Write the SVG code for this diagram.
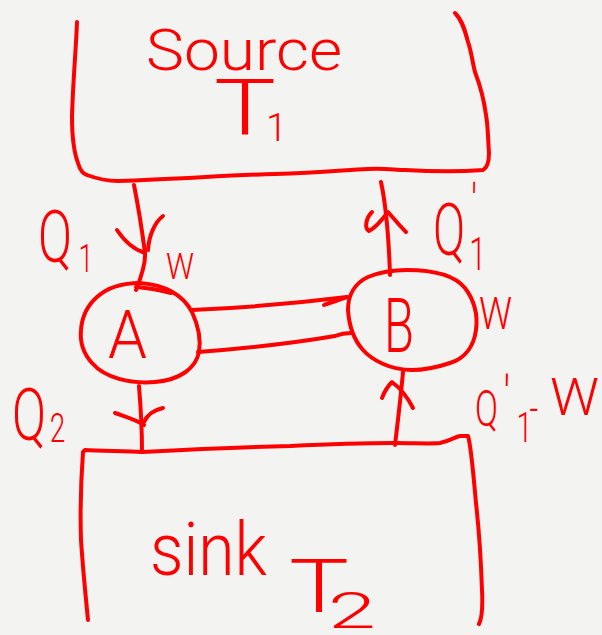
<svg xmlns="http://www.w3.org/2000/svg" width="602" height="635" viewBox="0 0 602 635">
  <style>
    .ink { fill: none; stroke: #ff0000; stroke-width: 4; stroke-linecap: round; stroke-linejoin: round; }
    .hand { fill: #ff0000; font-family: Roboto, "Liberation Sans", sans-serif; font-weight: 300; }
  </style>
  <rect width="602" height="635" fill="#f3f3f1"/>

  <!-- Hot reservoir -->
  <g id="source">
    <path class="ink" d="M77,22 C76,50 73,80 72,117 C72,140 75,155 78,163 C80,170 83,174 87,175 C95,178 105,181 118,181 C180,179 230,175 275,174 C320,173 345,170 368,169 C385,168 395,170 405,170 C440,172 470,171 483,170 C487,168 489,163 489,153 C488,140 488,125 486,115 C484,100 480,85 475,72 C472,60 471,50 468,42 C465,30 462,20 455,13"/>
    <text class="hand" x="146" y="70" font-size="58" textLength="196" lengthAdjust="spacingAndGlyphs">Source</text>
    <text class="hand" x="214" y="134" font-size="78" textLength="62" lengthAdjust="spacingAndGlyphs">T</text>
    <text class="hand" x="266" y="141" font-size="38">1</text>
  </g>

  <!-- Cold reservoir -->
  <g id="sink">
    <path class="ink" d="M88,620 C86,600 83,570 81,540 C80,510 81,480 83,452 L85,450 C100,451 125,451 142,452 C200,449 250,447 290,446 C330,444 370,443 395,443 C415,443 430,444 440,443 C450,441 455,437 460,436 L468,436 C471,445 473,470 476,503 C479,530 481,560 482,590 C483,610 481,620 479,624"/>
    <text class="hand" x="150" y="575" font-size="74" textLength="117" lengthAdjust="spacingAndGlyphs">sink</text>
    <text class="hand" x="289" y="612" font-size="74" textLength="60" lengthAdjust="spacingAndGlyphs">T</text>
    <text class="hand" x="328" y="628" font-size="50" textLength="48" lengthAdjust="spacingAndGlyphs">2</text>
  </g>

  <!-- Engine A -->
  <g id="engine-a">
    <path class="ink" d="M140,283 C165,285 183,295 192,312 C198,325 201,340 199,352 C196,368 180,380 155,382 C130,384 105,378 92,363 C82,352 80,340 81,330 C82,315 88,305 97,297 C107,288 120,283 140,283 Z"/>
    <text class="hand" x="108" y="358" font-size="66" textLength="39" lengthAdjust="spacingAndGlyphs">A</text>
  </g>

  <!-- Engine B -->
  <g id="engine-b">
    <path class="ink" d="M407,270 C435,270 455,276 465,288 C474,300 478,315 476,330 C474,345 466,358 450,363 C438,367 425,370 412,370 C390,370 372,360 363,350 C354,340 349,325 348,310 C348,295 355,283 368,277 C380,272 395,270 407,270 Z"/>
    <text class="hand" x="384" y="352" font-size="76" textLength="30" lengthAdjust="spacingAndGlyphs">B</text>
  </g>

  <!-- Heat and work flows -->
  <g id="connectors">
    <!-- Q1 into A -->
    <path class="ink" d="M134,185 C138,205 142,230 145,253 C146,265 140,280 136,290"/>
    <path class="ink" d="M117,230 C125,242 135,250 145,253 M163,216 C155,222 149,235 148,250"/>
    <path class="ink" d="M136,287 C148,288 160,290 171,293"/>
    <!-- Q1' out of B -->
    <path class="ink" d="M390,275 C389,245 387,210 381,182"/>
    <path class="ink" d="M372,212 C366,218 364,228 369,231 C375,228 382,220 388,212 C395,220 400,226 406,232"/>
    <!-- shaft between A and B -->
    <path class="ink" d="M192,310 C240,308 290,304 347,297"/>
    <path class="ink" d="M324,305 C332,302 340,300 347,297"/>
    <path class="ink" d="M198,352 C250,348 300,342 335,336 C340,334 345,333 351,333"/>
    <!-- Q2 out of A -->
    <path class="ink" d="M139,386 C141,410 142,430 142,452"/>
    <path class="ink" d="M115,413 C126,417 137,420 144,425 M163,408 C154,410 147,415 144,422"/>
    <!-- Q1'-W into B -->
    <path class="ink" d="M395,445 C398,420 401,395 403,372"/>
    <path class="ink" d="M382,398 C385,390 390,384 392,382 C400,388 408,398 413,408"/>
  </g>

  <!-- Flow labels -->
  <g id="labels">
    <text class="hand" font-size="72" transform="translate(38,262) scale(0.7,1)">Q<tspan x="58" y="10" font-size="38">1</tspan></text>
    <text class="hand" x="166" y="279" font-size="36" textLength="28" lengthAdjust="spacingAndGlyphs">W</text>
    <text class="hand" x="479" y="329" font-size="44" textLength="33" lengthAdjust="spacingAndGlyphs">W</text>
    <text class="hand" font-size="72" transform="translate(433,255) scale(0.66,1)">Q<tspan x="58" y="-34" font-size="52">'</tspan><tspan x="55" y="15" font-size="46">1</tspan></text>
    <text class="hand" font-size="72" transform="translate(12,440) scale(0.7,1)">Q<tspan x="54" y="2" font-size="40">2</tspan></text>
    <text class="hand" font-size="50" transform="translate(475,426) scale(0.68,1)">Q<tspan x="42" y="-9" font-size="58">'</tspan><tspan x="61" y="16" font-size="42">1</tspan><tspan x="80" y="-2" font-size="44">-</tspan></text>
    <text class="hand" x="550" y="415" font-size="52" textLength="49" lengthAdjust="spacingAndGlyphs">W</text>
  </g>
</svg>
